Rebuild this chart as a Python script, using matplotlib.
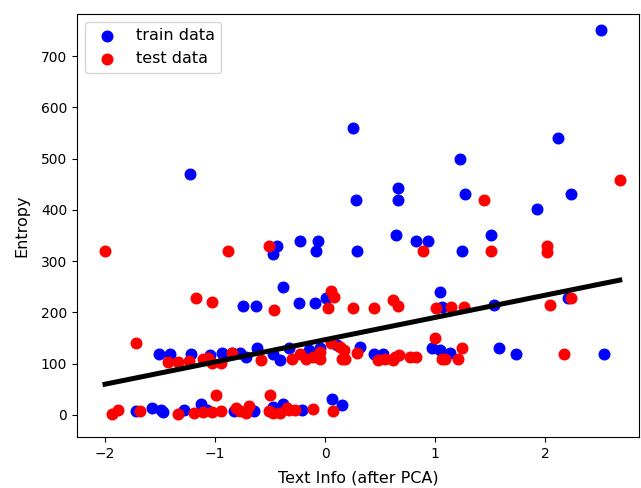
import matplotlib
matplotlib.use("Agg")
import matplotlib.pyplot as plt

train_x = [-1.72, -1.57, -1.47, -1.49, -1.28, -1.13, -1.07, -0.83, -0.65, -0.47, -0.46, -0.38, -0.21, 0.06, 0.15,
           -1.51, -1.41, -1.22, -1.05, -0.94, -0.85, -0.77, -0.72, -0.62, -0.47, -0.41, -0.33, -0.15, -0.05, 0.11,
           0.32, 0.45, 0.53, 0.97, 1.05, 1.14, 1.58, 1.74, 2.54,
           -0.75, -0.63, -0.38, -0.24, -0.09, 0.01, 1.05, 1.06, 1.54, 2.21,
           -0.44, -0.47, -0.23, -0.06, -0.08, 0.29, 0.65, 0.83, 0.94, 1.51, 1.25,
           -1.23, 0.28, 0.66, 0.66, 1.27, 2.24, 1.93, 1.23, 2.12, 0.25, 2.51]
train_y = [8, 13, 5, 9, 10, 21, 10, 8, 8, 16, 13, 21, 10, 31, 20,
           119, 119, 119, 117, 120, 121, 121, 114, 131, 119, 108, 130, 126, 130, 136,
           133, 119, 119, 130, 127, 120, 130, 119, 119,
           213, 213, 250, 219, 219, 229, 240, 210, 214, 229,
           329, 314, 340, 340, 320, 319, 351, 340, 340, 351, 320,
           470, 420, 442, 420, 430, 430, 401, 499, 540, 559, 750]

test_x = [-1.94, -1.88, -1.68, -1.34, -1.19, -1.11, -1.03, -0.95, -0.99, -0.81, -0.77, -0.72, -0.69, -0.50,
          -0.51, -0.47, -0.41, -0.35, -0.33, -0.27, -0.11, 0.07,
          -1.72, -1.43, -1.34, -1.24, -1.11, -1.06, -1.03, -0.95, -0.85, -0.58, -0.30, -0.23, -0.17, -0.11,
          -0.05, -0.05, 0.05, 0.14, 0.17, 0.15, 0.18, 0.29, 0.48, 0.55, 0.62, 0.64, 0.67, 0.77, 0.83, 1.00,
          1.06, 1.09, 1.21, 1.25, 2.17,
          -1.17, -1.03, -0.46, -2.0, -0.88, -0.51, 0.05, 0.08, 0.03, 0.25, 0.45, 0.62, 0.66, 1.01, 1.15,
          1.26, 2.05, 2.24, 1.45, 0.89, 1.51, 2.02, 2.02, 2.68]
test_y = [1, 10, 8, 1, 4, 5, 5, 8, 38, 13, 8, 4, 18, 38,
          8, 3, 3, 13, 10, 10, 11, 8,
          140, 104, 104, 105, 110, 112, 102, 102, 121, 108, 110, 119, 110, 113,
          110, 123, 140, 133, 127, 110, 110, 120, 108, 110, 108, 114, 117, 114, 114, 150,
          110, 110, 110, 130, 119,
          229, 220, 205, 320, 320, 329, 242, 231, 208, 208, 208, 224, 212, 208, 211,
          211, 214, 229, 420, 320, 320, 329, 318, 459]

line_x = [-2.0, 2.68]
line_y = [60, 263]

fig = plt.figure(figsize=(6.41, 4.88), dpi=100)
ax = fig.add_axes([77 / 641, 51 / 488, 562 / 641, 423 / 488])

ax.scatter(train_x, train_y, color="blue", s=58, label="train data")
ax.scatter(test_x, test_y, color="red", s=58, label="test data")
ax.plot(line_x, line_y, color="black", linewidth=3.6)

ax.set_xlim(-2.255, 2.855)
ax.set_ylim(-43, 782)
ax.set_xticks([-2, -1, 0, 1, 2])
ax.set_yticks([0, 100, 200, 300, 400, 500, 600, 700])
ax.tick_params(labelsize=10)
ax.set_xlabel("Text Info (after PCA)", fontsize=11.5, labelpad=7)
ax.set_ylabel("Entropy", fontsize=11.5, labelpad=8)
ax.legend(loc="upper left", fontsize=11.5)

fig.savefig("out.png", dpi=100)
